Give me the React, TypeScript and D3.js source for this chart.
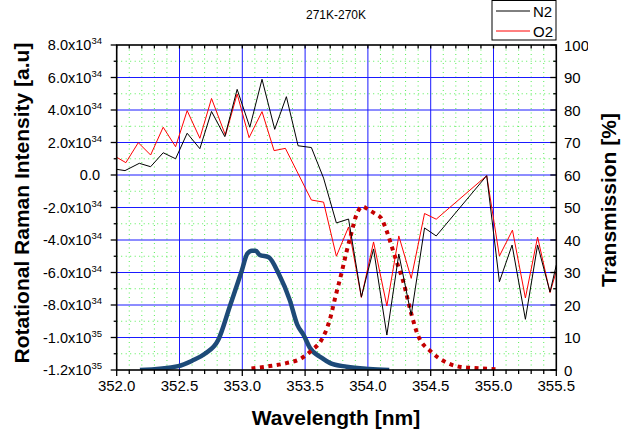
import React from "react";
import * as d3 from "d3";

const FONT = "'Liberation Sans', Arial, sans-serif";

const n2Wavelength = [352.0, 352.066, 352.18, 352.27, 352.37, 352.469, 352.561, 352.662, 352.755, 352.861, 352.959, 353.06, 353.157, 353.258, 353.351, 353.444, 353.55, 353.647, 353.749, 353.846, 353.948, 354.045, 354.151, 354.246, 354.345, 354.451, 354.544, 354.946, 355.047, 355.148, 355.254, 355.351, 355.45, 355.5];
// intensity in units of 1e34
const n2Intensity = [0.35, 0.27, 0.72, 0.51, 1.37, 1.0, 2.57, 1.62, 3.91, 2.36, 5.27, 2.94, 5.89, 2.81, 4.82, 1.8, 1.69, -0.19, -2.95, -2.71, -7.51, -4.55, -9.85, -4.86, -8.62, -3.26, -3.75, -0.04, -6.57, -4.31, -8.88, -4.31, -7.2, -5.54];

const o2Wavelength = [352.0, 352.073, 352.172, 352.27, 352.37, 352.469, 352.561, 352.662, 352.755, 352.866, 352.959, 353.054, 353.157, 353.253, 353.343, 353.55, 353.647, 353.749, 353.846, 353.948, 354.045, 354.151, 354.246, 354.345, 354.451, 354.544, 354.946, 355.047, 355.151, 355.254, 355.351, 355.45, 355.5];
const o2Intensity = [1.09, 0.76, 1.99, 1.23, 2.94, 1.74, 3.96, 2.26, 4.71, 2.44, 4.99, 2.3, 3.9, 1.5, 1.64, -1.54, -1.67, -5.0, -3.2, -7.54, -4.12, -8.06, -3.75, -6.36, -2.37, -2.72, -0.04, -4.99, -3.39, -7.57, -3.82, -7.24, -5.91];

const filterAWavelength = [352.185, 352.49, 352.603, 352.702, 352.808, 352.901, 352.994, 353.04, 353.076, 353.107, 353.139, 353.21, 353.29, 353.378, 353.437, 353.489, 353.537, 353.63, 353.696, 353.83, 354.01, 354.17];
const filterATransmission = [0, 1.2, 2.9, 5.0, 9.2, 19.6, 30.3, 35.8, 36.7, 36.7, 35.4, 34.7, 29.6, 21.5, 14.0, 10.7, 6.9, 3.8, 2.2, 1.0, 0.3, 0];

const filterBWavelength = [353.073, 353.219, 353.351, 353.471, 353.553, 353.63, 353.696, 353.743, 353.789, 353.828, 353.868, 353.908, 353.96, 354.0, 354.053, 354.106, 354.151, 354.199, 354.238, 354.278, 354.345, 354.397, 354.504, 354.61, 354.729, 354.888, 355.02];
const filterBTransmission = [0.5, 1.2, 2.1, 3.6, 6.1, 9.2, 15.4, 22.8, 29.7, 36.1, 42.1, 47.7, 50.3, 49.4, 48.2, 46.7, 42.6, 36.9, 32.3, 27.7, 17.4, 10.8, 5.6, 2.6, 1.0, 0.5, 0.2];

const xTickValues = [352.0, 352.5, 353.0, 353.5, 354.0, 354.5, 355.0, 355.5];
const leftTickValues = [8, 6, 4, 2, 0, -2, -4, -6, -8, -10, -12];
const leftTickMantissas = ["8.0", "6.0", "4.0", "2.0", "0.0", "-2.0", "-4.0", "-6.0", "-8.0", "-1.0", "-1.2"];
const leftTickExponents = ["34", "34", "34", "34", "", "34", "34", "34", "34", "35", "35"];
const rightTickValues = [0, 10, 20, 30, 40, 50, 60, 70, 80, 90, 100];

const legendLabels = ["N2", "O2"];
const legendColors = ["#000000", "#ff0000"];

export default function App() {
  const L = 116.7, R = 556.3, T = 45, B = 370;
  const x = d3.scaleLinear().domain([352, 355.5]).range([L, R]);
  const yL = d3.scaleLinear().domain([-12, 8]).range([B, T]);
  const yR = d3.scaleLinear().domain([0, 100]).range([B, T]);

  const lineL = (xs: number[], ys: number[]) =>
    d3.line<number>().x((_, i) => x(xs[i])).y((d) => yL(d))(ys) || "";
  const lineR = (xs: number[], ys: number[]) =>
    d3.line<number>().x((_, i) => x(xs[i])).y((d) => yR(d)).curve(d3.curveMonotoneX)(ys) || "";

  const minorX = d3.range(0, 36).map((i) => 352 + i * 0.1);
  const minorXGrid = minorX.filter((_, i) => i % 5 !== 0);
  const minorYGrid = d3.range(-11, 8, 2);
  const majorXGrid = xTickValues.slice(1, -1);
  const majorYGrid = leftTickValues.slice(1, -1);
  const minorLeft = d3.range(-11, 8, 2);
  const minorRight = d3.range(5, 100, 10);

  return (
    <svg width={622} height={430} style={{ position: "fixed", left: 0, top: 0, background: "#fff" }} fontFamily={FONT}>
      <defs>
        <clipPath id="plot">
          <rect x={L} y={T} width={R - L} height={B - T} />
        </clipPath>
        <clipPath id="rlab">
          <rect x={556} y={0} width={32} height={430} />
        </clipPath>
      </defs>
      <rect width={622} height={430} fill="#fff" />
      {/* minor grid */}
      <g stroke="#55ee55" strokeWidth={1} strokeDasharray="1 3.5">
        {minorXGrid.map((v, i) => (
          <line key={"mx" + i} x1={x(v)} x2={x(v)} y1={T} y2={B} />
        ))}
        {minorYGrid.map((v, i) => (
          <line key={"my" + i} x1={L} x2={R} y1={yL(v)} y2={yL(v)} />
        ))}
      </g>
      {/* major grid */}
      <g stroke="#1a1aff" strokeWidth={1}>
        {majorXGrid.map((v, i) => (
          <line key={"Mx" + i} x1={x(v)} x2={x(v)} y1={T} y2={B} />
        ))}
        {majorYGrid.map((v, i) => (
          <line key={"My" + i} x1={L} x2={R} y1={yL(v)} y2={yL(v)} />
        ))}
      </g>
      <g clipPath="url(#plot)" fill="none">
        <path d={lineR(filterAWavelength, filterATransmission)} stroke="#1d4a78" strokeWidth={4.5} strokeLinejoin="round" />
        <path d={lineR(filterBWavelength, filterBTransmission)} stroke="#c40000" strokeWidth={4} strokeDasharray="4 4.5" />
        <path d={lineL(o2Wavelength, o2Intensity)} stroke="#ff0000" strokeWidth={1} />
        <path d={lineL(n2Wavelength, n2Intensity)} stroke="#000000" strokeWidth={1} />
      </g>
      {/* frame */}
      <rect x={L} y={T} width={R - L} height={B - T} fill="none" stroke="#000" strokeWidth={1.6} />
      {/* ticks */}
      <g stroke="#000" strokeWidth={1.3}>
        {xTickValues.map((v, i) => (
          <line key={"bt" + i} x1={x(v)} x2={x(v)} y1={B} y2={B + 6} />
        ))}
        {minorX.filter((_, i) => i % 5 !== 0).map((v, i) => (
          <line key={"bm" + i} x1={x(v)} x2={x(v)} y1={B} y2={B + 4} />
        ))}
        {minorX.concat([355.5]).map((v, i) => (
          <line key={"tt" + i} x1={x(v)} x2={x(v)} y1={T} y2={T + 3.5} />
        ))}
        {leftTickValues.map((v, i) => (
          <line key={"lt" + i} x1={L - 6} x2={L} y1={yL(v)} y2={yL(v)} />
        ))}
        {minorLeft.map((v, i) => (
          <line key={"lm" + i} x1={L - 3} x2={L} y1={yL(v)} y2={yL(v)} />
        ))}
        {rightTickValues.map((v, i) => (
          <line key={"rt" + i} x1={R - 6} x2={R} y1={yR(v)} y2={yR(v)} />
        ))}
        {minorRight.map((v, i) => (
          <line key={"rm" + i} x1={R - 3} x2={R} y1={yR(v)} y2={yR(v)} />
        ))}
      </g>
      {/* bottom tick labels */}
      <g fontSize={15} textAnchor="middle" fill="#000">
        {xTickValues.map((v, i) => (
          <text key={"bl" + i} x={x(v)} y={391}>
            {v.toFixed(1)}
          </text>
        ))}
      </g>
      {/* left tick labels */}
      <g fontSize={14.5} textAnchor="end" fill="#000">
        {leftTickValues.map((v, i) => (
          <text key={"ll" + i} x={leftTickExponents[i] ? 102 : 100} y={yL(v) + 5}>
            {leftTickMantissas[i]}
            {leftTickExponents[i] ? "x10" : ""}
            {leftTickExponents[i] ? (
              <tspan fontSize={9.5} dy={-6}>
                {leftTickExponents[i]}
              </tspan>
            ) : null}
          </text>
        ))}
      </g>
      {/* right tick labels */}
      <g fontSize={15} textAnchor="start" fill="#000" clipPath="url(#rlab)">
        {rightTickValues.map((v, i) => (
          <text key={"rl" + i} x={564} y={yR(v) + 5.5}>
            {String(v)}
          </text>
        ))}
      </g>
      {/* titles */}
      <text x={336} y={19} fontSize={12} textAnchor="middle">
        271K-270K
      </text>
      <text x={336} y={425} fontSize={21} fontWeight="bold" textAnchor="middle">
        Wavelength [nm]
      </text>
      <text transform="translate(28.5,203) rotate(-90)" fontSize={21} fontWeight="bold" textAnchor="middle">
        Rotational Raman Intensity [a.u]
      </text>
      <text transform="translate(616,200) rotate(-90)" fontSize={21} fontWeight="bold" textAnchor="middle">
        Transmission [%]
      </text>
      {/* legend */}
      <rect x={492} y={0.5} width={64} height={39.5} fill="#fff" stroke="#000" strokeWidth={1} />
      {legendLabels.map((lab, i) => (
        <g key={lab}>
          <line x1={496} x2={530} y1={11 + i * 20} y2={11 + i * 20} stroke={legendColors[i]} strokeWidth={1} />
          <text x={533} y={16.5 + i * 20} fontSize={15}>
            {lab}
          </text>
        </g>
      ))}
    </svg>
  );
}
